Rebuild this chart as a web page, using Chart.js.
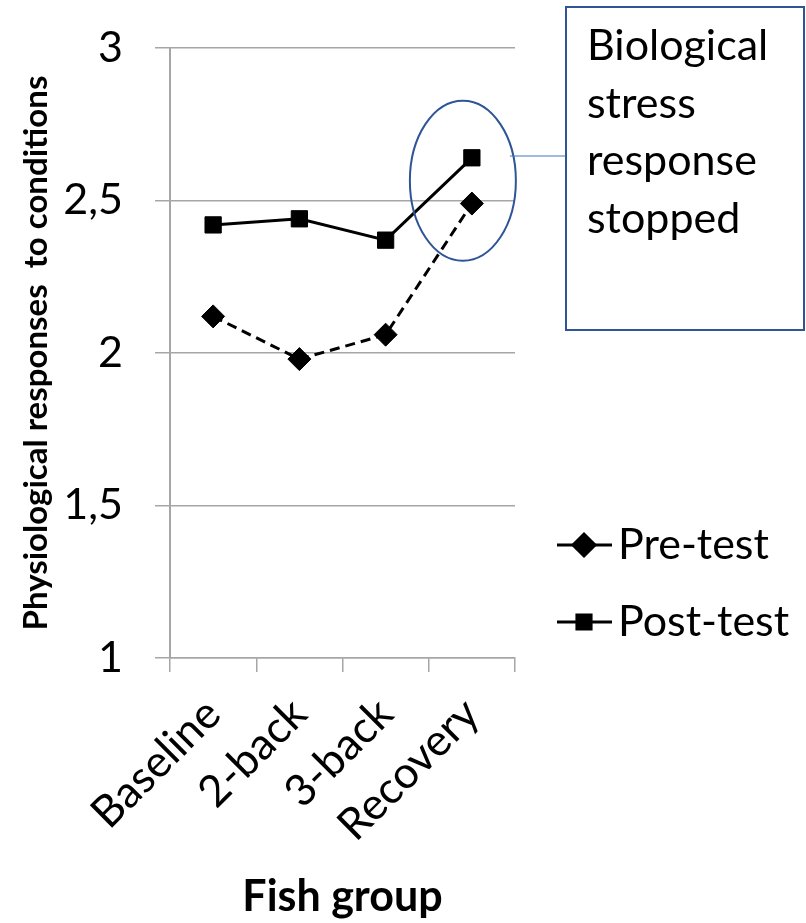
<!DOCTYPE html>
<html><head><meta charset="utf-8">
<script src="https://cdn.jsdelivr.net/npm/chart.js@4/dist/chart.umd.min.js"></script>
<style>html,body{margin:0;padding:0;background:#fff;}</style>
</head><body>
<canvas id="c" width="806" height="923"></canvas>
<script>
const categories = ['Baseline', '2-back', '3-back', 'Recovery'];
const preTest = [2.12, 1.98, 2.06, 2.49];
const postTest = [2.42, 2.44, 2.37, 2.64];
const yTickValues = [1, 1.5, 2, 2.5, 3];
const seriesNames = ['Pre-test', 'Post-test'];
const annotationLines = ['Biological', 'stress', 'response', 'stopped'];
const yTitle = 'Physiological responses  to conditions';
const xTitle = 'Fish group';

const FONT = 'Lato';
const GRID = '#a6a6a6';
const BLUE = '#2f5597';

const bgPlugin = {
  id: 'bg',
  beforeDraw(chart) {
    const ctx = chart.ctx;
    ctx.save();
    ctx.fillStyle = '#fff';
    ctx.fillRect(0, 0, chart.width, chart.height);
    ctx.restore();
  }
};

const legendPlugin = {
  id: 'customLegend',
  afterDraw(chart) {
    const ctx = chart.ctx;
    const rows = [545, 622];
    chart.data.datasets.forEach((ds, i) => {
      const y = rows[i];
      ctx.save();
      ctx.strokeStyle = '#000';
      ctx.lineWidth = 3;
      ctx.beginPath();
      ctx.moveTo(557, y);
      ctx.lineTo(612, y);
      ctx.stroke();
      ctx.fillStyle = '#000';
      Chart.helpers.drawPoint(ctx, {pointStyle: ds.pointStyle, radius: ds.pointStyle === 'rect' ? 10 : 11, borderWidth: 1}, 584, y);
      ctx.fill();
      ctx.font = '43px ' + FONT;
      ctx.textBaseline = 'middle';
      ctx.textAlign = 'left';
      ctx.fillText(ds.label, 618, y);
      ctx.restore();
    });
  }
};

const annotationPlugin = {
  id: 'annotation',
  afterDraw(chart) {
    const ctx = chart.ctx;
    const xs = chart.scales.x, ys = chart.scales.y;
    const last = categories.length - 1;
    const cx = xs.getPixelForValue(last) - 9;
    const cy = (ys.getPixelForValue(preTest[last]) + ys.getPixelForValue(postTest[last])) / 2;
    const rx = 53, ry = 80;
    ctx.save();
    ctx.strokeStyle = BLUE;
    ctx.lineWidth = 2;
    ctx.beginPath();
    ctx.ellipse(cx, cy, rx, ry, 0, 0, Math.PI * 2);
    ctx.stroke();
    ctx.strokeStyle = '#4472c4';
    ctx.lineWidth = 1;
    ctx.beginPath();
    ctx.moveTo(cx + rx - 6, 156);
    ctx.lineTo(566, 156);
    ctx.stroke();
    ctx.strokeStyle = BLUE;
    ctx.lineWidth = 2;
    ctx.strokeRect(566, 7, 238, 323);
    ctx.fillStyle = '#000';
    ctx.font = '43px ' + FONT;
    ctx.textBaseline = 'alphabetic';
    ctx.textAlign = 'left';
    annotationLines.forEach((t, i) => ctx.fillText(t, 587, 60 + i * 57.5));
    ctx.restore();
  }
};

new Chart(document.getElementById('c'), {
  type: 'line',
  data: {
    labels: categories,
    datasets: [
      {
        label: seriesNames[0], data: preTest,
        borderColor: '#000', backgroundColor: '#000', borderWidth: 3,
        borderDash: [10, 6], pointStyle: 'rectRot', pointRadius: 11.5,
        pointBackgroundColor: '#000', pointBorderColor: '#000', pointBorderWidth: 1,
        tension: 0
      },
      {
        label: seriesNames[1], data: postTest,
        borderColor: '#000', backgroundColor: '#000', borderWidth: 3,
        pointStyle: 'rect', pointRadius: 11.5,
        pointBackgroundColor: '#000', pointBorderColor: '#000', pointBorderWidth: 1,
        tension: 0
      }
    ]
  },
  options: {
    responsive: false, animation: false, devicePixelRatio: 1,
    layout: {padding: {top: 48, right: 291, left: 0, bottom: 0}},
    plugins: {legend: {display: false}, tooltip: {enabled: false}},
    scales: {
      x: {
        offset: true,
        grid: {offset: true, drawOnChartArea: false, drawTicks: true, tickLength: 14, color: GRID, lineWidth: 1.5},
        border: {display: true, color: GRID, width: 1.5},
        ticks: {maxRotation: 45, minRotation: 45, padding: 16, color: '#000', font: {family: FONT, size: 44}},
        title: {display: true, text: xTitle, color: '#000', font: {family: FONT, size: 43, weight: 'bold'}, padding: {top: 0, bottom: 0}},
        afterFit(s) { s.height = 923 - 658; s.paddingTop = 0; s.paddingBottom = 0; }
      },
      y: {
        min: 1, max: 3,
        afterBuildTicks(s) { s.ticks = yTickValues.map(v => ({value: v})); },
        grid: {drawTicks: true, tickLength: 15, color: GRID, lineWidth: 1.5},
        border: {display: true, color: GRID, width: 2},
        ticks: {padding: 32, color: '#000', font: {family: FONT, size: 43},
          callback: v => String(v).replace('.', ',')},
        title: {display: true, text: yTitle, color: '#000', font: {family: FONT, size: 33, weight: 'bold'}, padding: {top: 17, bottom: 0}},
        afterFit(s) { s.width = 170; s.paddingTop = 0; s.paddingBottom = 0; }
      }
    }
  },
  plugins: [bgPlugin, legendPlugin, annotationPlugin]
});
</script>
</body></html>
